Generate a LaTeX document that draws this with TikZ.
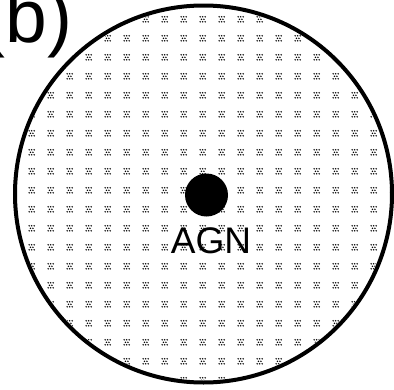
\documentclass[tikz,border=0pt]{standalone}
\usepackage{fontspec}
\setmainfont{Liberation Sans}
\begin{document}
\begin{tikzpicture}[x=1pt,y=-1pt,
  dotcell/.pic={
    \fill (-2.5,-2.5) circle (0.85pt) (0,-2.5) circle (0.85pt) (2.5,-2.5) circle (0.85pt)
          (-1.25,0) circle (0.85pt) (1.25,0) circle (0.85pt)
          (-2.5,2.5) circle (0.85pt) (0,2.5) circle (0.85pt) (2.5,2.5) circle (0.85pt);
  },
  rim/.style={line width=4pt},
  core/.style={circle, fill=black, inner sep=0pt, minimum size=43pt},
  tagfont/.style={font=\fontsize{75}{75}\selectfont, inner sep=0pt},
  lblfont/.style={font=\fontsize{37}{37}\selectfont, inner sep=0pt}]
\useasboundingbox (0,0) rectangle (394,389);
% stippled disc
\begin{scope}
  \clip (203.5,194) circle (186pt);
  \foreach \i in {-1,...,19} {
    \foreach \j in {-1,...,19} {
      \pic at ({31.7+19*\i},{38.3+19*\j}) {dotcell};
    }
  }
\end{scope}
\draw[rim] (203.5,194) circle (188.5pt);
% central source and its label
\node[core] (agn) at (206.5,195) {};
\node[lblfont, anchor=base] (lbl) at (211,253) {AGN};
% panel tag
\node[tagfont, anchor=base west] (tag) at (-19.5,42) {(b)};
\end{tikzpicture}
\end{document}
